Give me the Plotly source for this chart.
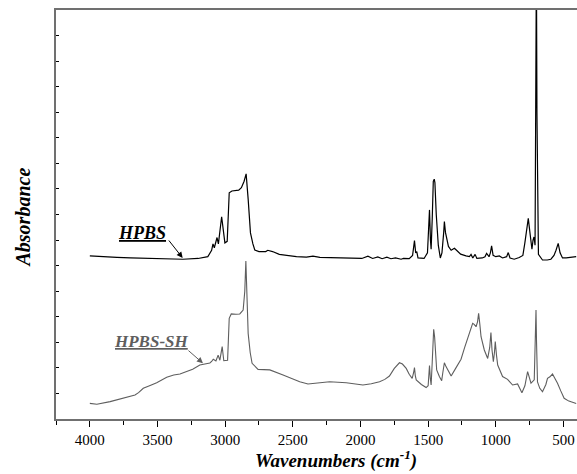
import plotly.graph_objects as go

# ---- data ----
wn_hpbs = [4000, 3900, 3800, 3700, 3580, 3450, 3312, 3200, 3128, 3100, 3090, 3080, 3060, 3050,
           3026, 3002, 2985, 2970, 2950, 2900, 2880, 2860, 2845, 2830, 2813, 2795, 2781, 2750,
           2700, 2685, 2650, 2600, 2473, 2400, 2351, 2300, 2200, 2031, 1990, 1945, 1910, 1872,
           1840, 1805, 1775, 1741, 1700, 1682, 1640, 1615, 1601, 1592, 1584, 1575, 1530, 1505,
           1495, 1490, 1483, 1478, 1470, 1462, 1455, 1450, 1440, 1425, 1410, 1398, 1385, 1380,
           1372, 1360, 1350, 1330, 1306, 1290, 1260, 1220, 1195, 1183, 1170, 1153, 1140, 1100,
           1080, 1068, 1050, 1040, 1031, 1020, 1000, 974, 950, 920, 908, 895, 864, 827, 800,
           785, 770, 760, 748, 733, 725, 718, 710, 704, 700, 696, 690, 685, 655, 620, 593, 570,
           555, 539, 525, 507, 480, 450, 406]
abs_hpbs = [6.38, 6.34, 6.32, 6.30, 6.28, 6.27, 6.25, 6.28, 6.35, 6.60, 6.85, 6.70, 7.10, 6.85,
            7.91, 6.89, 6.95, 8.85, 8.92, 8.95, 9.05, 9.30, 9.59, 8.60, 7.28, 6.85, 6.61, 6.55,
            6.55, 6.60, 6.55, 6.44, 6.35, 6.33, 6.37, 6.32, 6.30, 6.28, 6.28, 6.37, 6.28, 6.34,
            6.27, 6.33, 6.27, 6.30, 6.25, 6.28, 6.27, 6.40, 6.98, 6.50, 6.55, 6.30, 6.28, 6.50,
            8.00, 8.18, 7.00, 6.64, 7.80, 9.30, 9.38, 9.25, 8.00, 6.80, 6.30, 6.50, 7.30, 7.72,
            7.30, 6.90, 6.75, 6.60, 6.68, 6.60, 6.45, 6.38, 6.35, 6.44, 6.30, 6.44, 6.28, 6.30,
            6.35, 6.48, 6.35, 6.50, 6.77, 6.40, 6.35, 6.38, 6.30, 6.35, 6.51, 6.30, 6.25, 6.32,
            6.40, 6.90, 7.60, 7.85, 7.30, 6.64, 7.00, 7.12, 6.80, 12.0, 18.0, 12.0, 7.00, 6.44,
            6.22, 6.22, 6.25, 6.40, 6.60, 6.87, 6.50, 6.30, 6.30, 6.32, 6.35]

wn_sh = [4000, 3948, 3850, 3780, 3727, 3680, 3666, 3640, 3605, 3550, 3506, 3432, 3380, 3334,
         3285, 3240, 3187, 3137, 3113, 3100, 3088, 3068, 3052, 3039, 3022, 3010, 2982, 2970,
         2955, 2920, 2892, 2867, 2855, 2847, 2838, 2830, 2815, 2801, 2757, 2670, 2572, 2449,
         2388, 2300, 2228, 2105, 1982, 1920, 1859, 1820, 1786, 1750, 1712, 1690, 1662, 1640,
         1618, 1608, 1601, 1595, 1588, 1550, 1515, 1500, 1493, 1490, 1484, 1478, 1470, 1462,
         1459, 1452, 1445, 1437, 1417, 1400, 1392, 1380, 1368, 1355, 1330, 1300, 1257, 1230,
         1208, 1190, 1171, 1160, 1146, 1135, 1127, 1118, 1109, 1085, 1060, 1045, 1036, 1028,
         1018, 1010, 1004, 995, 986, 950, 913, 876, 855, 839, 807, 785, 765, 750, 740, 716,
         706, 703, 699, 692, 675, 655, 630, 618, 600, 581, 565, 544, 520, 495, 460, 406]
abs_sh = [0.61, 0.575, 0.68, 0.78, 0.85, 0.92, 0.94, 1.03, 1.20, 1.32, 1.42, 1.63, 1.72, 1.76,
          1.85, 1.95, 2.11, 2.18, 2.19, 2.25, 2.34, 2.27, 2.50, 2.30, 2.83, 2.28, 2.30, 3.94,
          4.11, 4.10, 4.11, 4.26, 5.00, 6.18, 5.00, 3.35, 2.60, 2.18, 1.94, 1.92, 1.72, 1.46,
          1.37, 1.42, 1.46, 1.42, 1.33, 1.38, 1.46, 1.55, 1.68, 1.98, 2.20, 2.15, 1.98, 1.75,
          1.59, 1.80, 2.01, 1.70, 1.53, 1.35, 1.23, 1.30, 1.90, 2.09, 1.60, 1.33, 2.20, 3.40,
          3.51, 3.20, 2.50, 1.92, 1.66, 1.50, 1.80, 2.20, 2.05, 1.92, 1.68, 1.95, 2.34, 2.80,
          3.16, 3.50, 3.74, 3.70, 3.61, 3.80, 4.13, 3.70, 3.22, 2.70, 2.37, 2.80, 3.38, 2.70,
          2.24, 2.60, 3.03, 2.50, 2.11, 1.66, 1.55, 1.33, 1.35, 1.37, 1.03, 1.30, 1.85, 1.55,
          1.40, 1.53, 3.00, 4.26, 3.00, 1.45, 1.20, 1.07, 1.35, 1.59, 1.65, 1.76, 1.60, 1.40,
          1.10, 0.81, 0.70, 0.61]

x_tickvals = [4000, 3500, 3000, 2500, 2000, 1500, 1000, 500]
x_ticktext = ["4000", "3500", "3000", "2500", "2000", "1500", "1000", "500"]

SERIF = "Liberation Serif"
AXIS_COLOR = "#707070"

fig = go.Figure()
fig.add_trace(go.Scatter(x=wn_hpbs, y=abs_hpbs, mode="lines",
                         line=dict(color="#000000", width=1.2), showlegend=False))
fig.add_trace(go.Scatter(x=wn_sh, y=abs_sh, mode="lines",
                         line=dict(color="#5e5e5e", width=1.1), showlegend=False))

fig.update_layout(
    width=577, height=474,
    margin=dict(l=56, r=0, t=10, b=55),
    paper_bgcolor="white", plot_bgcolor="white",
    font=dict(family=SERIF, color="black", size=15),
    xaxis=dict(
        range=[4250, 400], showgrid=False, zeroline=False,
        showline=True, linecolor=AXIS_COLOR, linewidth=2, mirror=True,
        tickmode="array", tickvals=x_tickvals, ticktext=x_ticktext,
        ticks="outside", ticklen=6, tickwidth=1.2, tickcolor="black",
        tickfont=dict(family=SERIF, size=15, color="black"),
        minor=dict(dtick=250, tick0=0, ticks="outside", ticklen=4, tickwidth=1.2, tickcolor="black"),
    ),
    yaxis=dict(
        range=[0, 16], showgrid=False, zeroline=False,
        showline=True, linecolor=AXIS_COLOR, linewidth=2, mirror=False,
        tick0=0, dtick=1, ticks="inside", ticklen=3, tickwidth=1.2, tickcolor="black",
        showticklabels=False,
    ),
)

fig.add_annotation(xref="paper", yref="paper", x=0.537, y=-0.135, xanchor="center", yanchor="bottom",
                   text="<b><i>Wavenumbers (cm<sup>-1</sup>)</i></b>", showarrow=False,
                   font=dict(family=SERIF, size=19, color="black"))
fig.add_annotation(xref="paper", yref="paper", x=-0.0633, y=0.4927, xanchor="center", yanchor="middle",
                   textangle=-90, text="<b><i>Absorbance</i></b>", showarrow=False,
                   font=dict(family=SERIF, size=20, color="black"))

# labels
fig.add_annotation(x=3618, y=7.29, xanchor="center", yanchor="middle",
                   text="<b><i><u>HPBS</u></i></b>", showarrow=False,
                   font=dict(family=SERIF, size=18, color="black"))
fig.add_annotation(x=3548, y=3.02, xanchor="center", yanchor="middle",
                   text="<b><i><u>HPBS-SH</u></i></b>", showarrow=False,
                   font=dict(family=SERIF, size=17, color="#5e5e5e"))
# arrows
fig.add_annotation(x=3314, y=6.30, ax=-15, ay=-19, text="", showarrow=True,
                   arrowhead=2, arrowsize=1.2, arrowwidth=1, arrowcolor="black")
fig.add_annotation(x=3164, y=2.18, ax=-16, ay=-14, text="", showarrow=True,
                   arrowhead=2, arrowsize=1.2, arrowwidth=1, arrowcolor="#5e5e5e")

fig.write_html("out.html")
